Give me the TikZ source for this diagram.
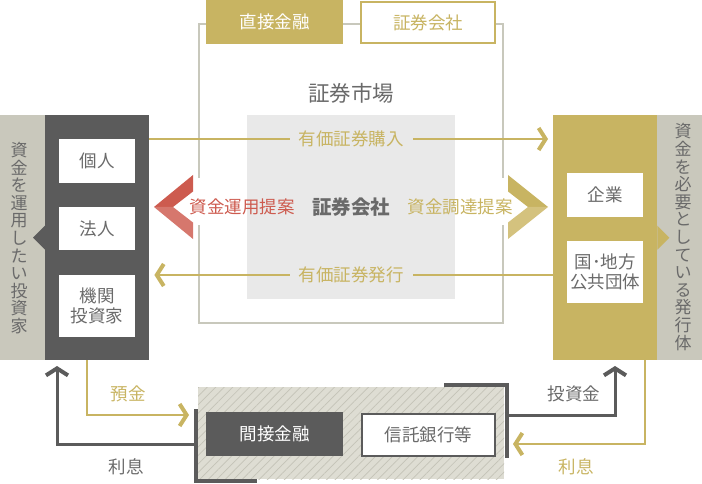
\documentclass[tikz,border=0pt]{standalone}
\usepackage{fontspec}
\setmainfont{Noto Sans CJK JP}
\usetikzlibrary{arrows.meta,patterns.meta,calc,positioning}
\definecolor{gold}{HTML}{C8B462}
\definecolor{goldlt}{HTML}{D4C27E}
\definecolor{dark}{HTML}{5B5B5B}
\definecolor{beige}{HTML}{C9C8BC}
\definecolor{mktgray}{HTML}{E9E9E9}
\definecolor{framegray}{HTML}{C8C8BC}
\definecolor{propred}{HTML}{CD5B4F}
\definecolor{propredlt}{HTML}{D6776D}
\definecolor{txt}{HTML}{6A6A6A}
\definecolor{hatchbg}{HTML}{DEDDD3}
\definecolor{hatchln}{HTML}{C4C3B7}
\begin{document}
\begin{tikzpicture}[x=1pt,y=-1pt,
	blk/.style={rectangle,inner sep=0pt,anchor=north west,font=\fontsize{17.5}{20}\selectfont,align=center},
	wbox/.style={blk,fill=white,text=txt,minimum width=76pt},
	vtext/.style={text=txt,font=\fontsize{17}{17.6}\selectfont,align=center,inner sep=0pt},
	lbl/.style={font=\fontsize{17.5}{20}\selectfont,inner sep=0pt},
	goldln/.style={gold,line width=2pt},
	darkln/.style={dark,line width=3pt},
	chev/.style={-{Straight Barb[length=7pt,width=22pt,line width=4pt,sharp]}}]
								\useasboundingbox (0,0) rectangle (702,484);
								\draw[framegray,line width=2pt] (199,178) -- (199,24) -- (503,24) -- (503,178); \draw[framegray,line width=2pt] (199,225) -- (199,323) -- (503,323) -- (503,225);
								\node[blk,fill=gold,text=white,minimum width=137pt,minimum height=44pt] (direct) at (206,0) {直接金融};
								\node[blk,fill=white,draw=gold,line width=2pt,text=gold,minimum width=134pt,minimum height=41pt] (sec) at (360,1) {証券会社};
								\node[text=txt,font=\fontsize{21.5}{24}\selectfont,inner sep=0pt] (mktlbl) at (351,93) {証券市場};
								\node[blk,fill=mktgray,minimum width=208pt,minimum height=184pt] (mkt) at (247,115) {};
								
								\node[blk,fill=beige,minimum width=45pt,minimum height=245pt] (invband) at (0,115) {};
								\node[blk,fill=dark,minimum width=104pt,minimum height=245pt] (inv) at (45,115) {};
								\fill[dark] (inv.west) ++(0,-12) -- ++(-12,12) -- ++(12,12) -- cycle;
								\node[vtext] (invtxt) at (19,238) {資\\金\\を\\運\\用\\し\\た\\い\\投\\資\\家};
								\node[wbox,minimum height=44pt] (kojin) at (59,139) {個人};
								\node[wbox,minimum height=43pt] (houjin) at (59,207) {法人};
								\node[wbox,minimum height=62pt] (kikan) at (59,275) {機関\\投資家};
								
								\node[blk,fill=gold,minimum width=104pt,minimum height=245pt] (iss) at (553,115) {};
								\node[blk,fill=beige,minimum width=45pt,minimum height=245pt] (issband) at (657,115) {};
								\fill[gold] (iss.east) ++(0,-12) -- ++(12,12) -- ++(-12,12) -- cycle;
								\node[vtext] (isstxt) at (683,237) {資\\金\\を\\必\\要\\と\\し\\て\\い\\る\\発\\行\\体};
								\node[wbox,minimum height=44pt] (kigyo) at (567,173) {企業};
								\node[wbox,minimum height=62pt] (kuni) at (567,241) {国･地方\\公共団体};
								
								\draw[goldln,chev,shorten >=5pt] (inv.east |- kojin.north) -- (iss.west |- kojin.north) node[midway,lbl,fill=mktgray,text=gold,inner xsep=9pt,inner ysep=3pt] (buy) {有価証券購入};
								\draw[goldln,chev,shorten >=5pt] (iss.west |- kikan.north) -- (inv.east |- kikan.north) node[midway,lbl,fill=mktgray,text=gold,inner xsep=9pt,inner ysep=3pt] (issue) {有価証券発行};
								
								\fill[propred] (154,207) -- (193,175) -- (193,191.5) -- (173,207) -- cycle; \fill[propredlt] (154,207) -- (173,207) -- (193,222.5) -- (193,239) -- cycle;
								\fill[gold] (548,207) -- (508,175) -- (508,191.5) -- (528,207) -- cycle; \fill[goldlt] (548,207) -- (528,207) -- (508,222.5) -- (508,239) -- cycle;
								\node[lbl,text=propred] (unyo) at (242,207) {資金運用提案};
								\node[lbl,text=txt,font=\fontsize{19.5}{22}\selectfont\bfseries] (secco) at (351,207) {証券会社};
								\node[lbl,text=gold] (chotatsu) at (460,207) {資金調達提案};
								
								\node[blk,fill=hatchbg,postaction={pattern={Lines[angle=45,distance=6pt,line width=0.7pt]},pattern color=hatchln},minimum width=306pt,minimum height=92pt] (indirect) at (198,387) {};
								\draw[dark,line width=4pt] ($(indirect.north west)+(-2,22)$) -- ($(indirect.south west)+(-2,2)$) -- ++(61,0);
								\draw[dark,line width=4pt] ($(indirect.north east)+(-60,-2)$) -- ($(indirect.north east)+(3,-2)$) -- ++(0,73);
								\node[blk,fill=dark,text=white,minimum width=137pt,minimum height=44pt] (kansetsu) at (206,412) {間接金融};
								\node[blk,fill=white,draw=dark,line width=2pt,text=txt,minimum width=133pt,minimum height=42pt] (trust) at (361,413) {信託銀行等};
								
								\coordinate (depin) at (189,415); \coordinate (intl) at (57,366); \coordinate (invout) at (615,366); \coordinate (intr) at (513,444);
								\draw[goldln,chev] ($(inv.south)+(-10,0)$) |- (depin); \node[lbl,text=gold] (yokin) at (128,394) {預金};
								\draw[darkln,chev] ($(indirect.west)+(-2,11)$) -| (intl); \node[lbl,text=txt] (risokul) at (126,467) {利息};
								\draw[darkln,chev] ($(indirect.east)+(3,-18)$) -| (invout); \node[lbl,text=txt] (toshikin) at (574,394) {投資金};
								\draw[goldln,chev] ($(iss.south)+(40,0)$) |- (intr); \node[lbl,text=gold] (risokur) at (576,467) {利息};
							\end{tikzpicture}
\end{document}
